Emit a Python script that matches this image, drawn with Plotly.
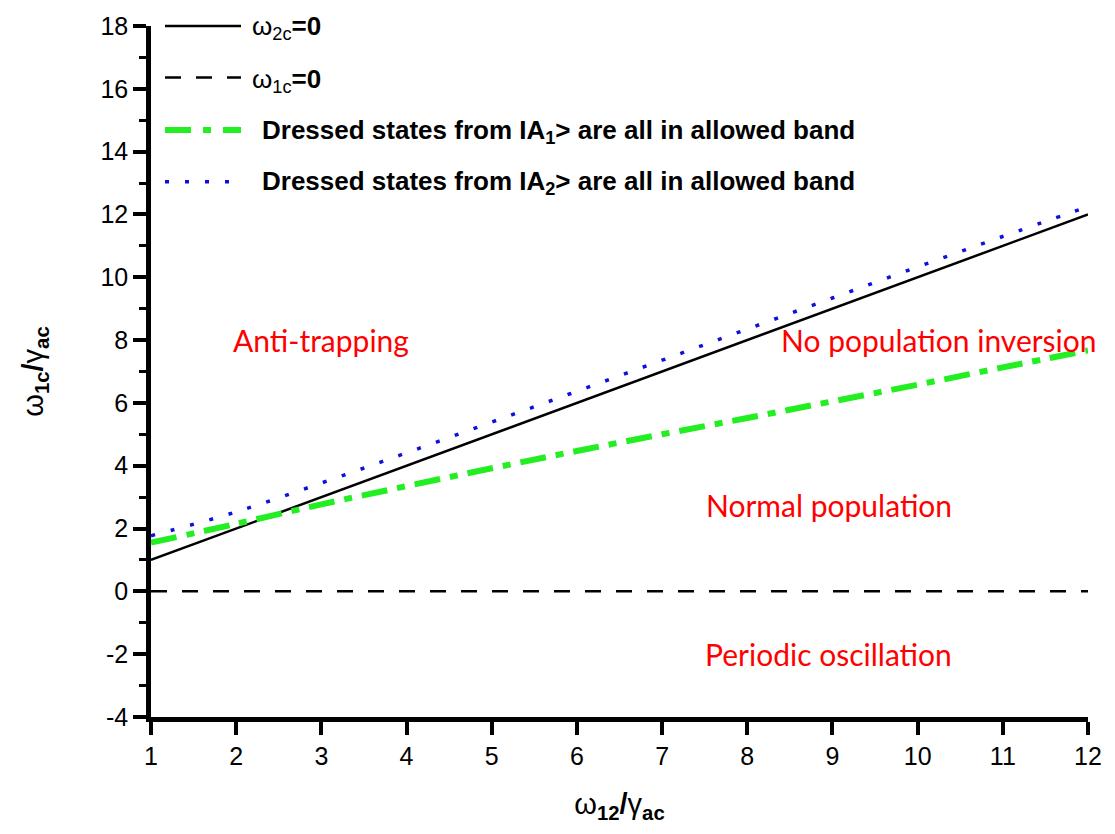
import plotly.graph_objects as go

# ---- data ----
x_vals = [1, 2, 3, 4, 5, 6, 7, 8, 9, 10, 11, 12]
w2c_zero = [1, 2, 3, 4, 5, 6, 7, 8, 9, 10, 11, 12]          # solid black
w1c_zero = [0, 0, 0, 0, 0, 0, 0, 0, 0, 0, 0, 0]             # dashed black
a1_allowed = [1.55, 2.15, 2.77, 3.35, 3.92, 4.47, 5.00, 5.52, 6.05, 6.58, 7.13, 7.67]   # green dash-dot
a2_allowed = [1.77, 2.53, 3.45, 4.41, 5.39, 6.37, 7.36, 8.35, 9.34, 10.33, 11.30, 12.25]  # blue dotted

x_ticks = list(range(1, 13))
x_ticklabels = [str(v) for v in x_ticks]
y_ticks = list(range(-4, 19, 2))
y_ticklabels = ["-4", "-2", "0", "2", "4", "6", "8", "10", "12", "14", "16", "18"]

region_labels = ["Anti-trapping", "No population inversion", "Normal population", "Periodic oscillation"]
region_x = [3.0, 10.25, 8.96, 8.95]
region_y = [8.0, 8.0, 2.75, -2.0]

legend_texts = [
    "ω<sub>2c</sub><b>=0</b>",
    "ω<sub>1c</sub><b>=0</b>",
    "<b>Dressed states from IA<sub>1</sub>&gt; are all in allowed band</b>",
    "<b>Dressed states from IA<sub>2</sub>&gt; are all in allowed band</b>",
]

W, H = 1115, 834
L, R, T, B = 151, 27, 20, 117
FONT = "Liberation Sans"

fig = go.Figure()
fig.add_trace(go.Scatter(x=x_vals, y=w2c_zero, mode="lines",
                         line=dict(color="black", width=2.5), showlegend=False))
fig.add_trace(go.Scatter(x=x_vals, y=w1c_zero, mode="lines",
                         line=dict(color="black", width=2.5, dash="16px,15px"), showlegend=False))
fig.add_trace(go.Scatter(x=x_vals, y=a1_allowed, mode="lines", line_shape="spline",
                         line=dict(color="#22ee22", width=6, dash="26px,10px,8px,10px"), showlegend=False))
fig.add_trace(go.Scatter(x=x_vals, y=a2_allowed, mode="lines", line_shape="spline",
                         line=dict(color="#1010dd", width=3.5, dash="4px,16px"), showlegend=False))

# region labels
for t, xx, yy in zip(region_labels, region_x, region_y):
    fig.add_annotation(x=xx, y=yy, text=t, showarrow=False, xanchor="center", yanchor="middle",
                       font=dict(family="Lato", size=30, color="#ff0000"))

# manual legend (pixel -> paper)
pw = W - L - R
ph = H - T - B
def px2paper_x(px):
    return (px - L) / pw
def px2paper_y(py):
    return (H - B - py) / ph

leg_line_y = [20, 72, 125, 177]
leg_text_y = [22, 75, 126, 178]
leg_text_x = [250, 250, 260, 260]
leg_styles = [
    dict(color="black", width=2.5, dash="solid"),
    dict(color="black", width=2.5, dash="16px,15px"),
    dict(color="#22ee22", width=6, dash="26px,12px,8px,12px"),
    dict(color="#1010dd", width=3.5, dash="4px,16px"),
]
for ly, ty, tx, st, txt in zip(leg_line_y, leg_text_y, leg_text_x, leg_styles, legend_texts):
    fig.add_shape(type="line", xref="paper", yref="paper",
                  x0=px2paper_x(165), x1=px2paper_x(241),
                  y0=px2paper_y(ly), y1=px2paper_y(ly), line=st)
    fig.add_annotation(xref="paper", yref="paper", x=px2paper_x(tx), y=px2paper_y(ty),
                       text=txt, showarrow=False, xanchor="left", yanchor="middle",
                       font=dict(family=FONT, size=26, color="black"))

axis_font = dict(family=FONT, size=25, color="black")
title_font = dict(family=FONT, size=29, color="black")
fig.update_xaxes(range=[1, 12], tickvals=x_ticks, ticktext=x_ticklabels, ticks="outside",
                 ticklen=13, tickwidth=4, tickcolor="black", showline=True, linewidth=4.5,
                 linecolor="black", showgrid=False, zeroline=False, tickfont=axis_font,
                 title=dict(text="ω<sub><b>12</b></sub><b>/</b>γ<sub><b>ac</b></sub>",
                            font=title_font, standoff=26))
fig.update_yaxes(range=[-4, 18], tickvals=y_ticks, ticktext=y_ticklabels, ticks="outside",
                 ticklen=13, tickwidth=4, tickcolor="black", showline=True, linewidth=4.5,
                 linecolor="black", showgrid=False, zeroline=False, tickfont=axis_font,
                 minor=dict(dtick=1, tick0=0, ticks="outside", ticklen=7, tickwidth=3, tickcolor="black"),
                 title=dict(text="ω<sub><b>1c</b></sub><b>/</b>γ<sub><b>ac</b></sub>",
                            font=title_font, standoff=50))
fig.update_layout(width=W, height=H, margin=dict(l=L, r=R, t=T, b=B),
                  plot_bgcolor="white", paper_bgcolor="white", showlegend=False)

fig.write_html("out.html")
